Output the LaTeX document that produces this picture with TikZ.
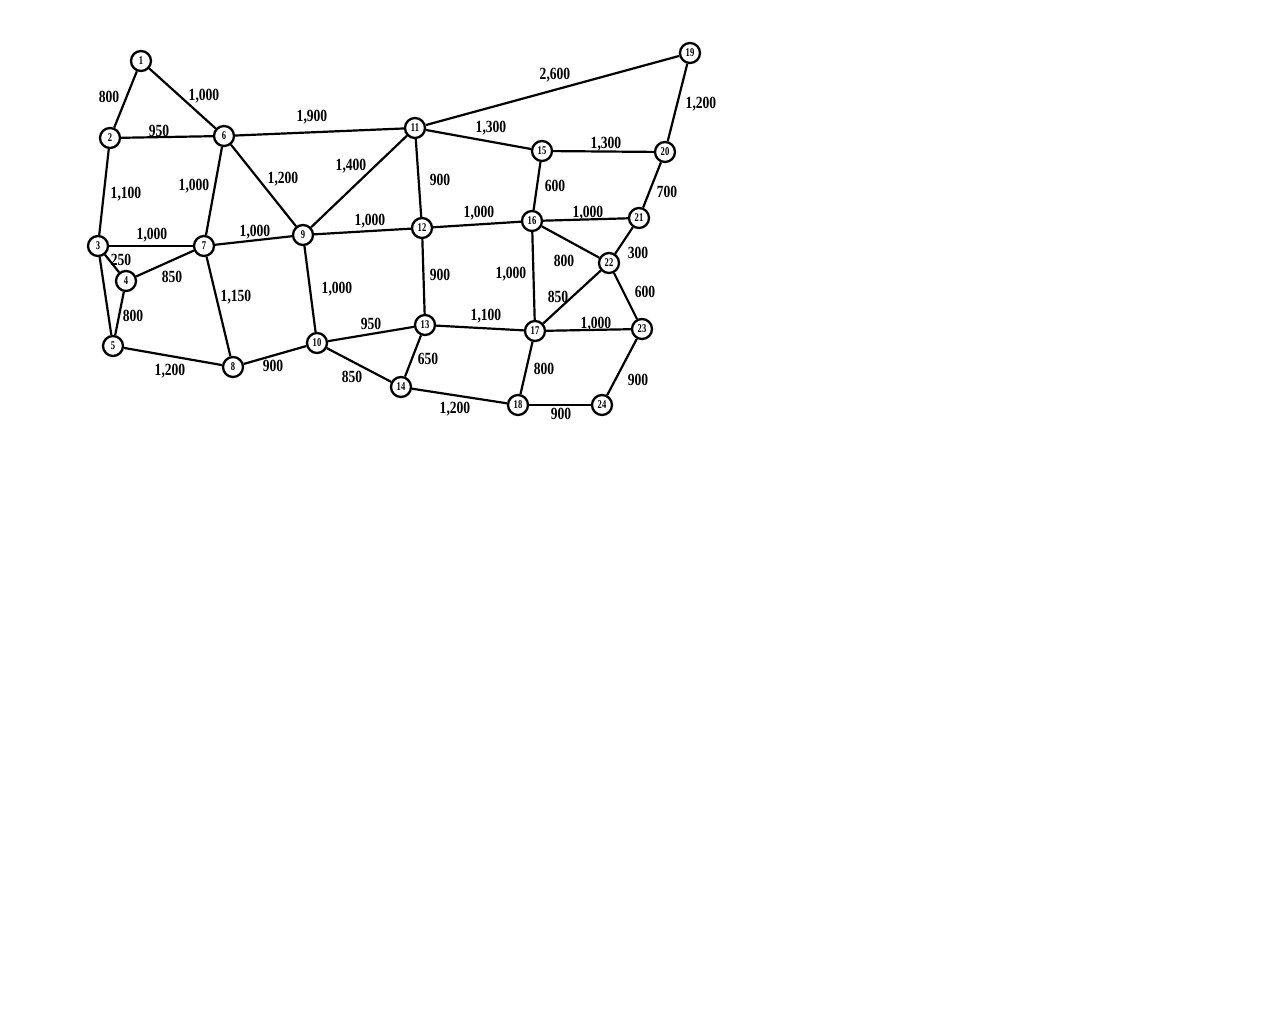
\documentclass[tikz,border=0pt]{standalone}
\usepackage{fontspec}
\usepackage{graphicx}
\setmainfont{Liberation Serif}
\newcommand{\wl}[1]{\scalebox{0.97}[1.22]{#1}}
\newcommand{\vn}[1]{\scalebox{0.9}[1.25]{#1}}
\begin{document}
\begin{tikzpicture}[x=1pt,y=-1pt,
  vtx/.style={circle,draw,line width=2.3pt,minimum size=20pt,inner sep=0pt,fill=white,font=\fontsize{9.5}{9.5}\selectfont\bfseries},
  edge/.style={line width=2.2pt},
  wt/.style={font=\fontsize{14}{14}\selectfont\bfseries,inner sep=0pt}]
\useasboundingbox (0,0) rectangle (1280,1024);
\fill[white] (0,0) rectangle (1280,1024);
% vertices
\node[vtx] (n1) at (141,61) {\vn{1}};
\node[vtx] (n2) at (110,138) {\vn{2}};
\node[vtx] (n3) at (98,246) {\vn{3}};
\node[vtx] (n4) at (126,281) {\vn{4}};
\node[vtx] (n5) at (113,346) {\vn{5}};
\node[vtx] (n6) at (224,136) {\vn{6}};
\node[vtx] (n7) at (204,246) {\vn{7}};
\node[vtx] (n8) at (233,367) {\vn{8}};
\node[vtx] (n9) at (303,235) {\vn{9}};
\node[vtx] (n10) at (317,343) {\vn{10}};
\node[vtx] (n11) at (415,128) {\vn{11}};
\node[vtx] (n12) at (422,228) {\vn{12}};
\node[vtx] (n13) at (425,325) {\vn{13}};
\node[vtx] (n14) at (401,387) {\vn{14}};
\node[vtx] (n15) at (542,151) {\vn{15}};
\node[vtx] (n16) at (532,221) {\vn{16}};
\node[vtx] (n17) at (535,331) {\vn{17}};
\node[vtx] (n18) at (518,405) {\vn{18}};
\node[vtx] (n19) at (690,53) {\vn{19}};
\node[vtx] (n20) at (665,152) {\vn{20}};
\node[vtx] (n21) at (639,218) {\vn{21}};
\node[vtx] (n22) at (609,263) {\vn{22}};
\node[vtx] (n23) at (642,329) {\vn{23}};
\node[vtx] (n24) at (602,405) {\vn{24}};
% edges
\begin{scope}[edge]
\draw (n1) -- (n2);
\draw (n1) -- (n6);
\draw (n2) -- (n6);
\draw (n2) -- (n3);
\draw (n6) -- (n7);
\draw (n6) -- (n9);
\draw (n6) -- (n11);
\draw (n3) -- (n7);
\draw (n3) -- (n4);
\draw (n3) -- (n5);
\draw (n4) -- (n7);
\draw (n4) -- (n5);
\draw (n5) -- (n8);
\draw (n7) -- (n8);
\draw (n7) -- (n9);
\draw (n8) -- (n10);
\draw (n9) -- (n10);
\draw (n9) -- (n11);
\draw (n9) -- (n12);
\draw (n11) -- (n12);
\draw (n11) -- (n15);
\draw (n11) -- (n19);
\draw (n12) -- (n16);
\draw (n12) -- (n13);
\draw (n10) -- (n13);
\draw (n10) -- (n14);
\draw (n13) -- (n14);
\draw (n13) -- (n17);
\draw (n14) -- (n18);
\draw (n15) -- (n16);
\draw (n15) -- (n20);
\draw (n16) -- (n21);
\draw (n16) -- (n22);
\draw (n16) -- (n17);
\draw (n17) -- (n22);
\draw (n17) -- (n23);
\draw (n17) -- (n18);
\draw (n18) -- (n24);
\draw (n19) -- (n20);
\draw (n20) -- (n21);
\draw (n21) -- (n22);
\draw (n22) -- (n23);
\draw (n23) -- (n24);
\end{scope}
% weights
\node[wt] (w12) at (109,97) {\wl{800}};
\node[wt] (w16) at (204,96) {\wl{1,000}};
\node[wt] (w26) at (159,131) {\wl{950}};
\node[wt] (w23) at (126,194) {\wl{1,100}};
\node[wt] (w67) at (194,186) {\wl{1,000}};
\node[wt] (w69) at (283,179) {\wl{1,200}};
\node[wt] (w611) at (312,117) {\wl{1,900}};
\node[wt] (w37) at (152,235) {\wl{1,000}};
\node[wt] (w34) at (121,260) {\wl{250}};
\node[wt] (w47) at (172,277) {\wl{850}};
\node[wt] (w45) at (133,316) {\wl{800}};
\node[wt] (w58) at (170,371) {\wl{1,200}};
\node[wt] (w78) at (236,297) {\wl{1,150}};
\node[wt] (w79) at (255,232) {\wl{1,000}};
\node[wt] (w810) at (273,366) {\wl{900}};
\node[wt] (w910) at (337,289) {\wl{1,000}};
\node[wt] (w911) at (351,166) {\wl{1,400}};
\node[wt] (w912) at (370,221) {\wl{1,000}};
\node[wt] (w1112) at (440,180) {\wl{900}};
\node[wt] (w1115) at (491,128) {\wl{1,300}};
\node[wt] (w1119) at (555,75) {\wl{2,600}};
\node[wt] (w1216) at (479,213) {\wl{1,000}};
\node[wt] (w1213) at (440,275) {\wl{900}};
\node[wt] (w1013) at (371,324) {\wl{950}};
\node[wt] (w1014) at (352,377) {\wl{850}};
\node[wt] (w1314) at (428,359) {\wl{650}};
\node[wt] (w1317) at (486,316) {\wl{1,100}};
\node[wt] (w1418) at (455,409) {\wl{1,200}};
\node[wt] (w1516) at (555,186) {\wl{600}};
\node[wt] (w1520) at (606,144) {\wl{1,300}};
\node[wt] (w1621) at (588,213) {\wl{1,000}};
\node[wt] (w1622) at (564,261) {\wl{800}};
\node[wt] (w1617) at (511,274) {\wl{1,000}};
\node[wt] (w1722) at (558,297) {\wl{850}};
\node[wt] (w1723) at (596,324) {\wl{1,000}};
\node[wt] (w1718) at (544,369) {\wl{800}};
\node[wt] (w1824) at (561,414) {\wl{900}};
\node[wt] (w1920) at (701,104) {\wl{1,200}};
\node[wt] (w2021) at (667,192) {\wl{700}};
\node[wt] (w2122) at (638,253) {\wl{300}};
\node[wt] (w2223) at (645,292) {\wl{600}};
\node[wt] (w2324) at (638,380) {\wl{900}};
\end{tikzpicture}
\end{document}
